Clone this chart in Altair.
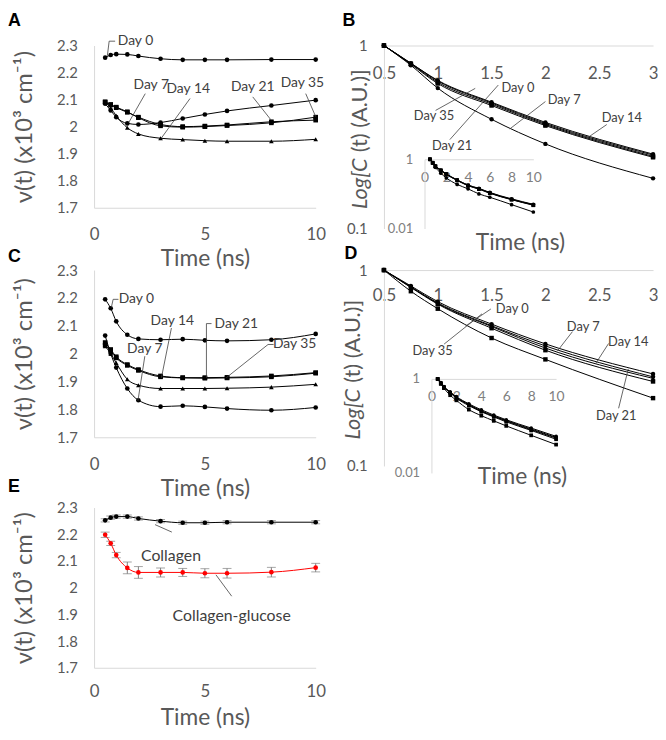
import altair as alt
import pandas as pd

FONT = "Lato"
LAB = "#595959"
AXC = "#d9d9d9"
ANN = "#404040"
NU_TITLE = "ν(t) (x10³ cm⁻¹)"

times = [0.5, 0.75, 1, 1.5, 2, 3, 4, 5, 6, 8, 10]
days = ["Day 0", "Day 7", "Day 14", "Day 21", "Day 35"]
day_shapes = ["circle", "circle", "triangle-up", "square", "square"]
freq_ticks = [1.7, 1.8, 1.9, 2.0, 2.1, 2.2, 2.3]

# Panel A: frequency vs time
a_day0 = [2.255, 2.265, 2.268, 2.267, 2.261, 2.251, 2.247, 2.247, 2.247, 2.248, 2.248]
a_day7 = [2.085, 2.06, 2.035, 2.012, 2.008, 2.015, 2.03, 2.045, 2.058, 2.078, 2.098]
a_day14 = [2.09, 2.07, 2.04, 1.996, 1.973, 1.957, 1.952, 1.948, 1.946, 1.946, 1.953]
a_day21 = [2.092, 2.08, 2.07, 2.053, 2.035, 2.008, 2.0, 2.002, 2.006, 2.018, 2.024]
a_day35 = [2.09, 2.082, 2.072, 2.055, 2.033, 2.003, 1.998, 2.0, 2.004, 2.014, 2.035]

# Panel B: correlation decay
b_day0 = [1, 0.80, 0.645, 0.49, 0.38, 0.255, 0.18, 0.145, 0.11, 0.072, 0.05]
b_day7 = [1, 0.78, 0.585, 0.395, 0.29, 0.188, 0.14, 0.10, 0.08, 0.049, 0.03]
b_day14 = [1, 0.80, 0.64, 0.485, 0.375, 0.252, 0.178, 0.142, 0.108, 0.07, 0.049]
b_day21 = [1, 0.795, 0.63, 0.478, 0.37, 0.248, 0.175, 0.14, 0.106, 0.069, 0.048]
b_day35 = [1, 0.79, 0.62, 0.47, 0.365, 0.245, 0.172, 0.137, 0.104, 0.068, 0.047]

# Panel C
c_day0 = [2.195, 2.163, 2.116, 2.068, 2.053, 2.05, 2.052, 2.048, 2.046, 2.05, 2.071]
c_day7 = [2.065, 2.0, 1.95, 1.875, 1.833, 1.81, 1.813, 1.809, 1.803, 1.797, 1.807]
c_day14 = [2.027, 2.0, 1.967, 1.908, 1.887, 1.875, 1.875, 1.875, 1.876, 1.88, 1.89]
c_day21 = [2.04, 2.015, 1.989, 1.961, 1.943, 1.92, 1.914, 1.914, 1.915, 1.92, 1.932]
c_day35 = [2.03, 2.01, 1.985, 1.958, 1.94, 1.917, 1.913, 1.912, 1.913, 1.917, 1.93]

# Panel D
d_day0 = [1, 0.83, 0.69, 0.53, 0.42, 0.295, 0.22, 0.17, 0.135, 0.09, 0.06]
d_day7 = [1, 0.82, 0.68, 0.52, 0.41, 0.285, 0.21, 0.163, 0.13, 0.086, 0.057]
d_day14 = [1, 0.82, 0.675, 0.515, 0.40, 0.28, 0.205, 0.16, 0.127, 0.083, 0.055]
d_day21 = [1, 0.78, 0.635, 0.45, 0.35, 0.222, 0.165, 0.128, 0.10, 0.063, 0.04]
d_day35 = [1, 0.815, 0.67, 0.505, 0.39, 0.27, 0.20, 0.155, 0.122, 0.08, 0.052]

# Panel E
e_series = ["Collagen", "Collagen-glucose"]
e_colors = ["black", "red"]
e_collagen = [2.252, 2.262, 2.266, 2.266, 2.259, 2.249, 2.243, 2.243, 2.245, 2.245, 2.245]
e_collagen_err = [0.006] * 11
e_glucose = [2.198, 2.166, 2.122, 2.074, 2.057, 2.057, 2.057, 2.054, 2.054, 2.058, 2.075]
e_glucose_err = [0.01, 0.008, 0.01, 0.022, 0.022, 0.017, 0.015, 0.017, 0.018, 0.018, 0.016]

# annotations: label, x, y  /  leader segments x, y, x2, y2
a_labels = [["Day 0", 1.87, 2.318], ["Day 7", 2.58, 2.155], ["Day 14", 4.25, 2.14],
            ["Day 21", 7.16, 2.147], ["Day 35", 9.4, 2.16]]
a_leaders = [[0.6, 2.262, 0.68, 2.316], [0.68, 2.316, 0.95, 2.316], [2.31, 2.122, 1.57, 2.016],
             [4.33, 2.104, 3.03, 1.957], [7.16, 2.11, 7.99, 2.024], [9.55, 2.122, 10, 2.037]]
b_labels = [["Day 0", 1.745, 0.583], ["Day 7", 2.174, 0.504], ["Day 14", 2.71, 0.401],
            ["Day 35", 0.965, 0.41], ["Day 21", 1.133, 0.284]]
b_leaders = [[0.98, 0.442, 1.348, 0.583], [1.112, 0.306, 1.562, 0.608],
             [2.0, 0.494, 1.669, 0.35], [2.57, 0.37, 2.39, 0.313]]
c_labels = [["Day 0", 1.91, 2.197], ["Day 14", 3.53, 2.116], ["Day 21", 6.42, 2.108],
            ["Day 35", 9.05, 2.033], ["Day 7", 2.29, 2.015]]
c_leaders = [[0.78, 2.166, 0.86, 2.195], [0.86, 2.195, 1.1, 2.195], [3.49, 2.092, 3.04, 1.914],
             [5.3, 2.108, 5.07, 2.108], [5.07, 2.108, 5.07, 1.914], [8.1, 2.033, 7.85, 2.033],
             [7.85, 2.033, 5.97, 1.914], [2.29, 1.991, 1.98, 1.831]]
d_labels = [["Day 0", 1.692, 0.634], ["Day 7", 2.352, 0.512], ["Day 14", 2.77, 0.427],
            ["Day 35", 0.952, 0.388], ["Day 21", 2.658, 0.18]]
d_leaders = [[1.059, 0.419, 1.411, 0.598], [1.493, 0.633, 1.258, 0.518],
             [2.251, 0.485, 2.114, 0.388], [2.587, 0.422, 2.465, 0.332], [2.68, 0.197, 2.77, 0.313]]
e_labels = [["Collagen", 3.47, 2.12], ["Collagen-glucose", 6.21, 1.892]]
e_leaders = [[2.75, 2.236, 3.51, 2.208], [5.5, 2.048, 6.21, 1.968]]


def long(series, names, tmax=None):
    rows = []
    for name, ys in zip(names, series):
        for t, y in zip(times, ys):
            if tmax is None or t <= tmax:
                rows.append({"x": t, "y": y, "s": name})
    return pd.DataFrame(rows)


def lab_df(labels):
    return pd.DataFrame(labels, columns=["label", "x", "y"])


def lead_df(leaders):
    return pd.DataFrame(leaders, columns=["x", "y", "x2", "y2"])


def ax(**kw):
    base = dict(domainColor=AXC, domainWidth=1, ticks=False, tickSize=0, grid=False,
                labelFont=FONT, labelColor=LAB, titleFont=FONT, titleColor=LAB,
                titleFontWeight="normal", labelFlush=False, labelOverlap=False)
    base.update(kw)
    return alt.Axis(**base)


def pix_text(text, x, y, size, color, weight="normal", style="normal", align="left",
             baseline="top", angle=0, font=FONT):
    return alt.Chart(pd.DataFrame({"t": [text]})).mark_text(
        align=align, baseline=baseline, fontSize=size, font=font, fontWeight=weight,
        fontStyle=style, color=color, angle=angle
    ).encode(x=alt.value(x), y=alt.value(y), text="t:N")


shape_enc = alt.Shape("s:N", scale=alt.Scale(domain=days, range=day_shapes), legend=None)


def freq_encoders(h, xlab_pad, xtitle_y):
    xs = alt.Scale(domain=[0, 10], nice=False)
    ys = alt.Scale(domain=[1.7, 2.3], nice=False, zero=False)
    xax = ax(values=[0, 5, 10], labelFontSize=17, labelPadding=xlab_pad, title="Time (ns)",
             titleFontSize=23, titleY=xtitle_y, titleBaseline="middle")
    yax = ax(values=freq_ticks, format="~g", labelFontSize=15, labelPadding=17, title=NU_TITLE,
             titleFontSize=24, titleAngle=270, titleX=-70, titleY=h / 2,
             titleBaseline="middle", titleAlign="center")
    X = lambda f: alt.X(f"{f}:Q", scale=xs, axis=xax)
    Y = lambda f: alt.Y(f"{f}:Q", scale=ys, axis=yax)
    return X, Y


def freq_panel(series, w, h, labels, leaders, letter, letter_y, xlab_pad, xtitle_y):
    X, Y = freq_encoders(h, xlab_pad, xtitle_y)
    df = long(series, days)
    lines = alt.Chart(df).mark_line(color="black", strokeWidth=1, interpolate="monotone").encode(
        x=X("x"), y=Y("y"), detail="s:N")
    pts = alt.Chart(df).mark_point(filled=True, size=22, color="black", opacity=1).encode(
        x=X("x"), y=Y("y"), shape=shape_enc)
    rules = alt.Chart(lead_df(leaders)).mark_rule(color=ANN, strokeWidth=0.8).encode(
        x=X("x"), y=Y("y"), x2="x2:Q", y2="y2:Q")
    texts = alt.Chart(lab_df(labels)).mark_text(fontSize=14, font=FONT, color=ANN).encode(
        x=X("x"), y=Y("y"), text="label:N")
    let = pix_text(letter, -87, letter_y, 18, "black", weight="bold", font="Liberation Sans")
    return alt.layer(lines, pts, rules, texts, let).properties(width=w, height=h)


def decay_panel(series, w, h, labels, leaders, letter, letter_x, letter_y, xlab_pad,
                inset_xr, inset_yr, title_cx, title_y, ytitle_x, ytitle_c):
    xs = alt.Scale(domain=[0.5, 3], nice=False)
    ys = alt.Scale(type="log", domain=[0.1, 1], nice=False)
    xax = ax(values=[0.5, 1, 1.5, 2, 2.5, 3], format="~g", orient="bottom", offset=-h,
             labelFontSize=17, labelPadding=xlab_pad, title=None)
    yax = ax(values=[0.1, 1], format="~g", labelFontSize=15, labelPadding=17, title=None)
    X = lambda f: alt.X(f"{f}:Q", scale=xs, axis=xax)
    Y = lambda f: alt.Y(f"{f}:Q", scale=ys, axis=yax)
    dfm = long(series, days, tmax=3)
    lines = alt.Chart(dfm).mark_line(color="black", strokeWidth=1, interpolate="monotone").encode(
        x=X("x"), y=Y("y"), detail="s:N")
    pts = alt.Chart(dfm).mark_point(filled=True, size=20, color="black", opacity=1).encode(
        x=X("x"), y=Y("y"), shape=shape_enc)
    rules = alt.Chart(lead_df(leaders)).mark_rule(color=ANN, strokeWidth=0.8).encode(
        x=X("x"), y=Y("y"), x2="x2:Q", y2="y2:Q")
    texts = alt.Chart(lab_df(labels)).mark_text(fontSize=13, font=FONT, color=ANN).encode(
        x=X("x"), y=Y("y"), text="label:N")
    let = pix_text(letter, letter_x, letter_y, 18, "black", weight="bold", font="Liberation Sans")
    yt1 = pix_text("Log[C", ytitle_x, ytitle_c + 24, 22, LAB, style="italic", align="right",
                   baseline="middle", angle=270)
    yt2 = pix_text("(t) (A.U.)]", ytitle_x, ytitle_c + 18, 22, LAB, align="left",
                   baseline="middle", angle=270)
    xt = pix_text("Time (ns)", title_cx, title_y, 23, LAB, align="center", baseline="middle")
    main = alt.layer(lines, pts, rules, texts, let, yt1, yt2, xt)

    xsi = alt.Scale(domain=[0, 10], nice=False, range=inset_xr)
    ysi = alt.Scale(type="log", domain=[0.01, 1], nice=False, range=inset_yr)
    xaxi = ax(values=[0, 2, 4, 6, 8, 10], orient="bottom", offset=-(h - inset_yr[1]),
              labelFontSize=14, labelColor="#808080", labelPadding=11, title=None)
    yaxi = ax(values=[0.01, 1], format="~g", orient="left", offset=-inset_xr[0],
              labelFontSize=13, labelColor="#808080", labelPadding=12, title=None)
    dfi = long(series, days)
    lines_i = alt.Chart(dfi).mark_line(color="black", strokeWidth=1, interpolate="monotone").encode(
        x=alt.X("x:Q", scale=xsi, axis=xaxi), y=alt.Y("y:Q", scale=ysi, axis=yaxi), detail="s:N")
    pts_i = alt.Chart(dfi).mark_point(filled=True, size=14, color="black", opacity=1).encode(
        x=alt.X("x:Q", scale=xsi, axis=xaxi), y=alt.Y("y:Q", scale=ysi, axis=yaxi), shape=shape_enc)
    inset = alt.layer(lines_i, pts_i)
    return alt.layer(main, inset).resolve_scale(x="independent", y="independent").properties(
        width=w, height=h)


def e_panel(w, h, xlab_pad, xtitle_y):
    X, Y = freq_encoders(h, xlab_pad, xtitle_y)
    rows = []
    for name, ys, es in [("Collagen", e_collagen, e_collagen_err),
                         ("Collagen-glucose", e_glucose, e_glucose_err)]:
        for t, y, e in zip(times, ys, es):
            rows.append({"x": t, "y": y, "s": name, "lo": y - e, "hi": y + e})
    df = pd.DataFrame(rows)
    caps = pd.concat([df.assign(c=df["lo"]), df.assign(c=df["hi"])])
    col = alt.Color("s:N", scale=alt.Scale(domain=e_series, range=e_colors), legend=None)
    bars = alt.Chart(df).mark_rule(color="#7f7f7f", strokeWidth=1).encode(
        x=X("x"), y=Y("lo"), y2="hi:Q")
    ticks = alt.Chart(caps).mark_tick(orient="horizontal", size=9, thickness=1, color="#7f7f7f").encode(
        x=X("x"), y=Y("c"))
    lines = alt.Chart(df).mark_line(strokeWidth=1, interpolate="monotone").encode(
        x=X("x"), y=Y("y"), color=col, detail="s:N")
    pts = alt.Chart(df).mark_point(filled=True, size=22, opacity=1, shape="circle").encode(
        x=X("x"), y=Y("y"), color=col)
    rules = alt.Chart(lead_df(e_leaders)).mark_rule(color=ANN, strokeWidth=0.8).encode(
        x=X("x"), y=Y("y"), x2="x2:Q", y2="y2:Q")
    texts = alt.Chart(lab_df(e_labels)).mark_text(fontSize=16, font=FONT, color=ANN).encode(
        x=X("x"), y=Y("y"), text="label:N")
    let = pix_text("E", -87, -30, 18, "black", weight="bold", font="Liberation Sans")
    return alt.layer(bars, ticks, lines, pts, rules, texts, let).properties(width=w, height=h)


A = freq_panel([a_day0, a_day7, a_day14, a_day21, a_day35], 224, 164, a_labels, a_leaders,
               "A", -34, 19, 51)
B = decay_panel([b_day0, b_day7, b_day14, b_day21, b_day35], 272, 185, b_labels, b_leaders,
                "B", -42, -34, 20, [41, 151], [185, 115], 138, 200, -24, 90)
C = freq_panel([c_day0, c_day7, c_day14, c_day21, c_day35], 224, 169, c_labels, c_leaders,
               "C", -22, 20, 52)
D = decay_panel([d_day0, d_day7, d_day14, d_day21, d_day35], 272, 198, d_labels, d_leaders,
                "D", -40, -25, 18, [48, 174], [205, 110], 140, 209, -31, 96)
E = e_panel(224, 162, 16, 50)

chart = alt.concat(A, B, C, D, E, columns=2, spacing={"row": 42, "column": 69},
                   bounds="flush").properties(padding=0).configure_view(stroke=None)

chart.save("out.html", embed_options={"renderer": "svg", "actions": False})
